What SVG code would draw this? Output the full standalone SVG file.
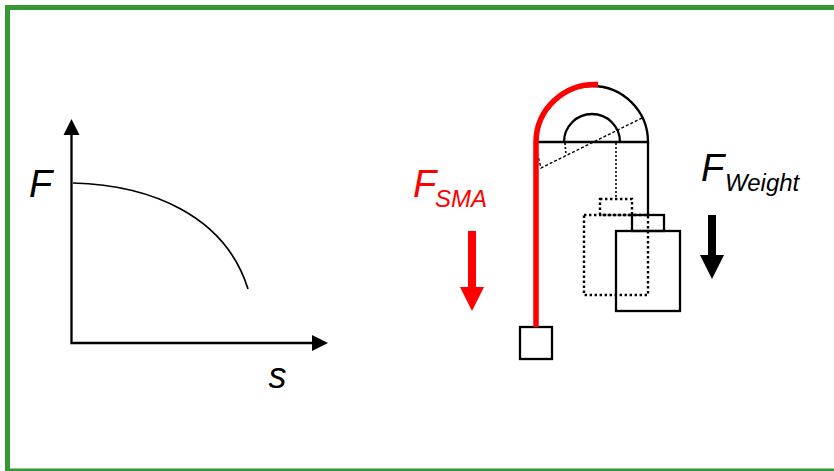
<svg xmlns="http://www.w3.org/2000/svg" width="834" height="471" viewBox="0 0 834 471">
<style>
.l{fill:none;stroke:#000;stroke-width:2.3}
.d{fill:none;stroke:#000;stroke-width:2.4;stroke-dasharray:2.4 2.6}
.t{font-family:"Liberation Sans",Arial,sans-serif;font-style:italic}
.b{font-size:38px}
.s{font-size:36px}
.sub{font-size:24px}
</style>
<rect width="834" height="471" fill="#fff"/>
<rect id="frame" x="7.5" y="7.5" width="900" height="463.5" fill="none" stroke="#339933" stroke-width="5"/>
<g id="graph">
<path d="M71.5 134V343H313" fill="none" stroke="#000" stroke-width="2.3"/>
<polygon points="71.5,119 79.5,135 63.5,135"/>
<polygon points="328,343 312,351 312,335"/>
<path class="l" style="stroke-width:1.7" d="M73 183C150 185 225 215 248 289"/>
<text class="t b" x="29" y="197">F</text>
<text class="t s" x="268.500" y="388">s</text>
</g>
<g id="pulley">
<path class="l" d="M536 142A56 56 0 0 1 648 142Z"/>
<path class="l" d="M564 142A28 28 0 0 1 620 142"/>
<path class="l" d="M648 142V215"/>
<path class="d" style="stroke-width:1.4;stroke-dasharray:3 2" d="M642 118L541 168L537 152"/>
<path class="d" style="stroke-width:1.6;stroke-dasharray:2 2" d="M565 143L566 155M616 143V199"/>
</g>
<g id="ghost-weight">
<rect class="d" x="600" y="199" width="32" height="16"/>
<rect class="d" x="584" y="215" width="64" height="80"/>
</g>
<g id="weight">
<rect class="l" x="632" y="215" width="32" height="16"/>
<rect class="l" x="616" y="231" width="64" height="80"/>
</g>
<g id="anchor">
<rect class="l" x="520" y="327" width="32" height="32"/>
</g>
<g id="connectors">
<path d="M536 327V142A59 58 0 0 1 598 84.500" fill="none" stroke="#f00" stroke-width="5.5"/>
</g>
<g id="f-sma">
<text class="t b" x="413" y="197" fill="#f00">F</text>
<text class="t sub" x="435" y="207" fill="#f00">SMA</text>
<polygon fill="#f00" points="468,231 476,231 476,287 484,287 472,311 460,287 468,287"/>
</g>
<g id="f-weight">
<text class="t b" x="701" y="181">F</text>
<text class="t sub" x="725" y="191">Weight</text>
<polygon points="708,215 716,215 716,255 724,255 712,279 700,255 708,255"/>
</g>
</svg>
